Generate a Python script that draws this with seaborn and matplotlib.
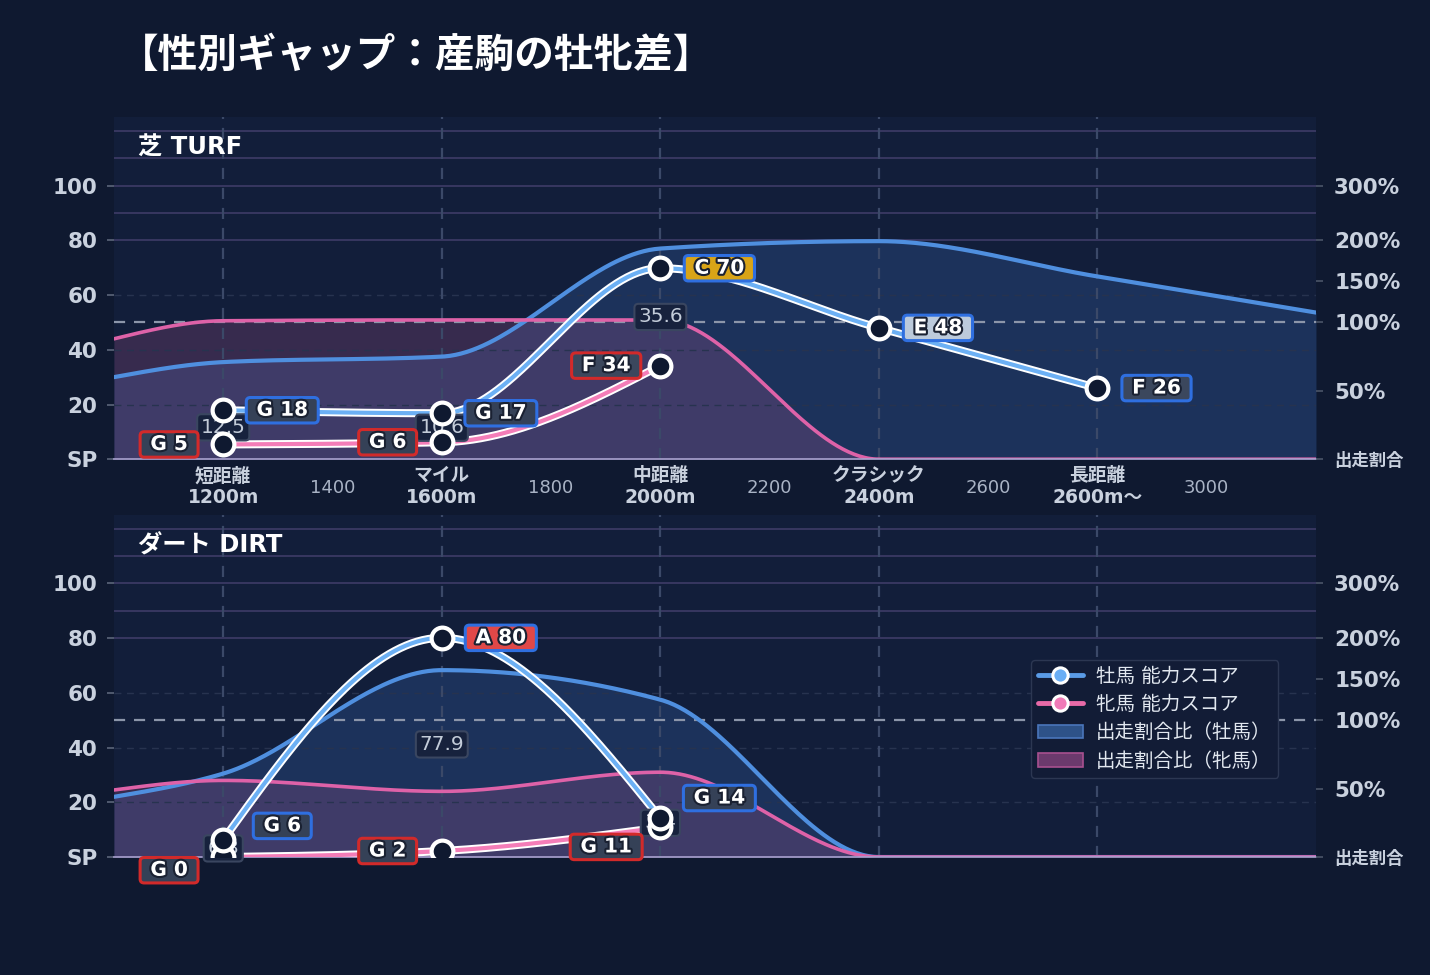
import numpy as np
import matplotlib
matplotlib.use("Agg")
import matplotlib.pyplot as plt
import matplotlib.patheffects as pe
from matplotlib.lines import Line2D
from matplotlib.patches import Patch
import seaborn as sns

# ---- data ----
categories = [1200, 1600, 2000, 2400, 2800]
cat_labels = ["短距離\n1200m", "マイル\n1600m", "中距離\n2000m", "クラシック\n2400m", "長距離\n2600m〜"]
minor_ticks = [1400, 1800, 2200, 2600, 3000]

# share of starters (牡 / 牝), percent, sampled at these distances
ratio_x = [1000, 1200, 1600, 2000, 2400, 2800, 3200]
turf_ratio_male = [60, 71, 75, 190, 199, 156, 112]
turf_ratio_female = [88, 102, 103, 103, 0, 0, 0]
dirt_ratio_male = [44, 61, 161, 125, 0, 0, 0]
dirt_ratio_female = [49, 56, 48, 62, 0, 0, 0]

# ability scores
turf_male = [17.9, 16.8, 69.8, 48.0, 26.0]
turf_male_grade = ["G", "G", "C", "E", "F"]
turf_female = [5.4, 6.2, 34.2]
turf_female_grade = ["G", "G", "F"]
dirt_male = [6.3, 80.1, 14.2]
dirt_male_grade = ["G", "A", "G"]
dirt_female = [0.0, 2.2, 10.8]
dirt_female_grade = ["G", "G", "G"]

score_ticks = [0, 20, 40, 60, 80, 100]
score_labels = ["SP", "20", "40", "60", "80", "100"]
pct_ticks = [0, 50, 100, 150, 200, 300]
pct_labels = ["出走割合", "50%", "100%", "150%", "200%", "300%"]

# right axis scale (percent -> left score units)
pct_knots = [0, 100, 200, 300, 400]
score_knots = [0, 50, 80, 100, 120]

# ---- style ----
FIG_BG = "#0f1930"
AX_BG = "#121e3a"
TXT = "#c9d1de"
grade_fill = {"A": "#e04848", "C": "#d9a417", "E": "#bccadb", "F": "#3b475d", "G": "#354157"}
MALE_BORDER = "#2f6fe0"
FEMALE_BORDER = "#d22a2a"

sns.set_theme(style="dark")
plt.rcParams["font.family"] = ["DejaVu Sans", "Noto Sans CJK JP"]


def to_score(pct):
    return np.interp(pct, pct_knots, score_knots)


def monotone(xs, ys, n=80):
    # monotone cubic (same idea as d3 curveMonotoneX)
    xs = np.asarray(xs, float)
    ys = np.asarray(ys, float)
    h = np.diff(xs)
    s = np.diff(ys) / h
    k = len(xs)
    m = np.zeros(k)
    if k == 2:
        m[:] = s[0]
    else:
        for i in range(1, k - 1):
            p = (s[i - 1] * h[i] + s[i] * h[i - 1]) / (h[i - 1] + h[i])
            m[i] = (np.sign(s[i - 1]) + np.sign(s[i])) * min(abs(s[i - 1]), abs(s[i]), 0.5 * abs(p))
        m[0] = (3 * s[0] - m[1]) / 2
        m[-1] = (3 * s[-1] - m[-2]) / 2
    px, py = [], []
    for i in range(k - 1):
        t = np.linspace(0, 1, n)
        h00 = 2 * t**3 - 3 * t**2 + 1
        h10 = t**3 - 2 * t**2 + t
        h01 = -2 * t**3 + 3 * t**2
        h11 = t**3 - t**2
        px.append(xs[i] + t * h[i])
        py.append(h00 * ys[i] + h10 * h[i] * m[i] + h01 * ys[i + 1] + h11 * h[i] * m[i + 1])
    return np.concatenate(px), np.concatenate(py)


def setup_panel(ax, title, show_xlabels):
    ax.set_facecolor(AX_BG)
    ax.set_xlim(1000, 3200)
    ax.set_ylim(0, 125)
    for sp in ["left", "right", "top"]:
        ax.spines[sp].set_visible(False)
    ax.spines["bottom"].set_color("#a9a2cf")
    ax.spines["bottom"].set_linewidth(1.2)
    ax.grid(False)

    # horizontal guides
    for v in [80, 90, 100, 110, 120]:
        ax.axhline(v, color="#3a3964", lw=1.3, zorder=1.5)
    for v in [20, 40, 60]:
        ax.axhline(v, color="#27334f", lw=1.0, ls=(0, (5, 4)), zorder=1.5)
    ax.axhline(50, color="#8c96aa", lw=1.6, ls=(0, (5, 4)), zorder=1.6)
    for c in categories:
        ax.axvline(c, color="#3b4968", lw=1.6, ls=(0, (5, 4)), zorder=1.5)

    ax.set_yticks(score_ticks, score_labels)
    ax.tick_params(axis="y", colors="#5b657a", length=5, width=1.2, pad=7,
                   labelcolor=TXT, labelsize=15.5)
    for lb in ax.get_yticklabels():
        lb.set_fontweight("bold")

    if show_xlabels:
        ax.set_xticks(categories, cat_labels)
        ax.set_xticks(minor_ticks, [str(v) for v in minor_ticks], minor=True)
        ax.tick_params(axis="x", which="major", colors="#0a1020", length=4, pad=1,
                       labelcolor=TXT, labelsize=13.5)
        ax.tick_params(axis="x", which="minor", length=0, pad=14, labelcolor="#a9b3c5", labelsize=13)
        for lb in ax.get_xticklabels():
            lb.set_fontweight("bold")
    else:
        ax.set_xticks(categories, [""] * len(categories))
        ax.tick_params(axis="x", which="major", colors="#0a1020", length=4)

    ax2 = ax.twinx()
    ax2.set_ylim(ax.get_ylim())
    ax2.set_yticks(to_score(pct_ticks), pct_labels)
    ax2.tick_params(axis="y", colors="#4a5468", length=5, width=1.2, pad=8,
                    labelcolor=TXT, labelsize=15.5)
    for lb in ax2.get_yticklabels():
        lb.set_fontweight("bold")
        if lb.get_text() == "出走割合":
            lb.set_fontsize(12.5)
    for sp in ax2.spines.values():
        sp.set_visible(False)
    ax2.grid(False)

    ax.text(0.02, 0.91, title, transform=ax.transAxes, color="white", fontsize=17.5,
            fontweight="bold", va="center", ha="left", zorder=10)


def draw_ratio(ax, male_pct, female_pct):
    mx, my = monotone(ratio_x, to_score(male_pct))
    fx, fy = monotone(ratio_x, to_score(female_pct))
    ax.fill_between(mx, 0, my, color="#3a6ec0", alpha=0.25, lw=0, zorder=1)
    ax.fill_between(fx, 0, fy, color="#d060a0", alpha=0.2, lw=0, zorder=1.1)
    sns.lineplot(x=mx, y=my, ax=ax, color="#4f8fdf", lw=3.0, sort=False, estimator=None, zorder=2)
    sns.lineplot(x=fx, y=fy, ax=ax, color="#de62a8", lw=2.6, sort=False, estimator=None, zorder=2.1)


def draw_ability(ax, vals, grades, color, border, dx, nudges, zo):
    xs = categories[:len(vals)]
    cx, cy = monotone(xs, vals)
    ax.plot(cx, cy, color="white", lw=5.8, zorder=zo, solid_capstyle="round")
    sns.lineplot(x=cx, y=cy, ax=ax, color=color, lw=3.0, sort=False, estimator=None, zorder=zo + 0.1)
    sns.scatterplot(x=xs, y=vals, ax=ax, s=245, color=FIG_BG, edgecolor="white",
                    linewidth=3.0, zorder=zo + 2)
    for x, v, g, dy in zip(xs, vals, grades, nudges):
        ax.annotate(f" {g} {round(v)} ", (x, v), xytext=(dx, dy), textcoords="offset points",
                    ha="center", va="center", fontsize=14.5, fontweight="bold", color="white",
                    bbox=dict(boxstyle="round,pad=0.16,rounding_size=0.2", fc=grade_fill[g],
                              ec=border, lw=2.2),
                    path_effects=[pe.withStroke(linewidth=3, foreground="#1a2132")],
                    zorder=zo + 3, annotation_clip=False)


def draw_gaps(ax, male, female):
    for x, m, f in zip(categories, male, female):
        ax.text(x, (m + f) / 2, f"{m - f:.1f}", ha="center", va="center", fontsize=14.5,
                color="#c3ccd9", zorder=4,
                bbox=dict(boxstyle="round,pad=0.18,rounding_size=0.2", fc="#17223d",
                          ec="#3a4660", lw=1.5))


fig = plt.figure(figsize=(14.3, 9.75), dpi=100, facecolor=FIG_BG)
ax_t = fig.add_axes([0.0797, 0.529, 0.8406, 0.3508])
ax_d = fig.add_axes([0.0797, 0.121, 0.8406, 0.3508])

setup_panel(ax_t, "芝 TURF", True)
setup_panel(ax_d, "ダート DIRT", False)

draw_ratio(ax_t, turf_ratio_male, turf_ratio_female)
draw_ratio(ax_d, dirt_ratio_male, dirt_ratio_female)

draw_gaps(ax_t, turf_male, turf_female)
draw_gaps(ax_d, dirt_male, dirt_female)

draw_ability(ax_t, turf_female, turf_female_grade, "#f47db8", FEMALE_BORDER, -39, [0, 0, 0], 3)
draw_ability(ax_t, turf_male, turf_male_grade, "#6cb0f4", MALE_BORDER, 42.5, [0, 0, 0, 0, 0], 3.2)
draw_ability(ax_d, dirt_female, dirt_female_grade, "#f47db8", FEMALE_BORDER, -39, [-9.5, 0, -14], 3)
draw_ability(ax_d, dirt_male, dirt_male_grade, "#6cb0f4", MALE_BORDER, 42.5, [10, 0, 14.5], 3.2)

handles = [
    Line2D([], [], color="#5a9be6", lw=3.5, marker="o", ms=11, mfc="#6aaef5", mec="white", mew=2.2),
    Line2D([], [], color="#e86aa8", lw=3.5, marker="o", ms=11, mfc="#f07ab8", mec="white", mew=2.2),
    Patch(fc="#2e5288", ec="#4a76bb", lw=1.2),
    Patch(fc="#6b3a6d", ec="#a8508f", lw=1.2),
]
labels = ["牡馬 能力スコア", "牝馬 能力スコア", "出走割合比（牡馬）", "出走割合比（牝馬）"]
leg = ax_d.legend(handles, labels, loc="upper left", bbox_to_anchor=(1031 / 1430, 1 - 660 / 975),
                  bbox_transform=fig.transFigure, borderaxespad=0, fontsize=14, frameon=True,
                  facecolor="#121c36", edgecolor="#2c3752", framealpha=1, borderpad=0.35,
                  labelspacing=0.48, handlelength=2.3, handletextpad=0.7)
for t in leg.get_texts():
    t.set_color("#e2e8f0")
leg.set_zorder(20)

fig.text(0.083, 0.943, "【性別ギャップ：産駒の牡牝差】", color="white", fontsize=28.5,
         fontweight="bold", va="center", ha="left", family=["Noto Sans CJK JP", "DejaVu Sans"])

fig.savefig("out.png", dpi=100, facecolor=FIG_BG)
